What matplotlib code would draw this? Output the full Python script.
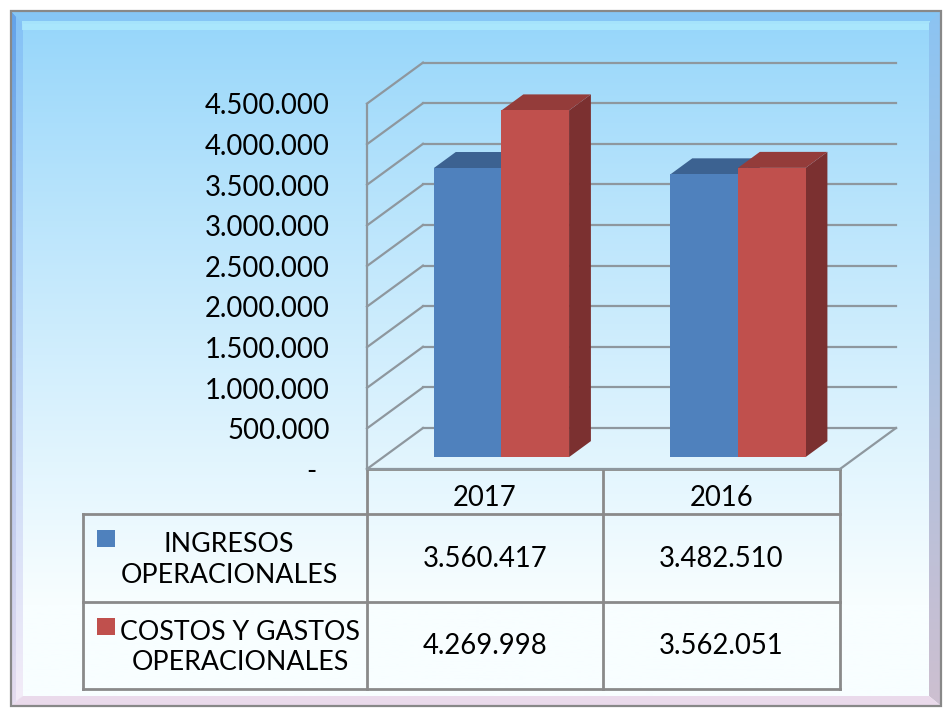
import numpy as np
import matplotlib
matplotlib.use("Agg")
import matplotlib.pyplot as plt
from matplotlib.patches import Polygon, Rectangle

plt.rcParams['font.family'] = ['Lato', 'DejaVu Sans']

# data
years = ['2017', '2016']
series = ['INGRESOS\nOPERACIONALES', 'COSTOS Y GASTOS\nOPERACIONALES']
ingresos = [3560417, 3482510]
costos = [4269998, 3562051]
values = [ingresos, costos]
y_ticks = [0, 500000, 1000000, 1500000, 2000000, 2500000,
           3000000, 3500000, 4000000, 4500000]
y_labels = ['-', '500.000', '1.000.000', '1.500.000', '2.000.000', '2.500.000',
            '3.000.000', '3.500.000', '4.000.000', '4.500.000']

front_col = ['#4F81BD', '#C0504D']
top_col = ['#3C6291', '#943C3A']
side_col = ['#365A86', '#7B3030']
grid_col = '#8E979E'


def fmt(v):
    return f"{v:,}".replace(',', '.')


def vgrad(axis, c_top, c_bot, extent, clip, z):
    # vertical colour ramp clipped to a polygon
    c_top = np.array(matplotlib.colors.to_rgb(c_top))
    c_bot = np.array(matplotlib.colors.to_rgb(c_bot))
    t = np.linspace(0, 1, 300)[:, None]
    img = (c_top * (1 - t) + c_bot * t)[:, None, :]
    im = axis.imshow(img, extent=extent, aspect='auto', zorder=z)
    patch = Polygon(clip, closed=True, transform=axis.transData)
    im.set_clip_path(patch)


W, H = 945, 708
fig = plt.figure(figsize=(W / 100, H / 100), dpi=100)

# background / frame axes in pixel units
bg = fig.add_axes([0, 0, 1, 1])
bg.set_xlim(0, W)
bg.set_ylim(H, 0)
bg.axis('off')

top_rgb = np.array([148, 213, 250]) / 255
bot_rgb = np.array([248, 254, 255]) / 255
t = np.clip(np.linspace(0, 1, 400) ** 0.9 * 1.15, 0, 1)[:, None]
grad = (top_rgb * (1 - t) + bot_rgb * t)[:, None, :]
bg.imshow(grad, extent=(12, 940, 705, 12), aspect='auto', zorder=0)

# bevel strips
vgrad(bg, '#63A3EA', '#E6DDF0', (12, 23, 705, 12),
      [(12, 12), (23, 23), (23, 696), (12, 705)], 1)
vgrad(bg, '#84C2F6', '#F4ECF8', (16, 23, 705, 12),
      [(16, 16), (23, 23), (23, 696), (16, 701)], 1)
bg.add_patch(Polygon([(12, 12), (940, 12), (930, 24), (22, 24)],
                     closed=True, color='#86C6F5', lw=0, zorder=1))
bg.add_patch(Polygon([(22, 21), (930, 21), (930, 30), (22, 30)],
                     closed=True, color='#AEEBFD', lw=0, zorder=1, alpha=0.8))
vgrad(bg, '#8CC4F2', '#CDBFD0', (929, 940, 705, 12),
      [(940, 12), (940, 705), (929, 696), (929, 23)], 1)
bg.add_patch(Polygon([(12, 705), (940, 705), (929, 696), (23, 696)],
                     closed=True, color='#EADAEB', lw=0, zorder=1))
bg.add_patch(Rectangle((11, 11), 930, 695, fill=False, ec='#888888', lw=1.6, zorder=2))

# data table (pixel layout)
tcol = '#8A8A8A'
tlw = 2.0
x_cols = [367, 603, 840]
y_rows = [469, 514, 602, 689]
bg.plot([x_cols[0], x_cols[-1]], [y_rows[0], y_rows[0]], color=tcol, lw=tlw, zorder=3)
for yr in y_rows[1:]:
    bg.plot([83, x_cols[-1]], [yr, yr], color=tcol, lw=tlw, zorder=3)
for xc in x_cols:
    bg.plot([xc, xc], [y_rows[0], y_rows[-1]], color=tcol, lw=tlw, zorder=3)
bg.plot([83, 83], [y_rows[1], y_rows[-1]], color=tcol, lw=tlw, zorder=3)

fs = 19.8
for i, yl in enumerate(years):
    xc = (x_cols[i] + x_cols[i + 1]) / 2
    bg.text(xc, 498, yl, ha='center', va='center', fontsize=fs, zorder=4)
    for j in range(2):
        yc = (y_rows[j + 1] + y_rows[j + 2]) / 2 + 1
        bg.text(xc, yc, fmt(values[j][i]), ha='center', va='center',
                fontsize=fs, zorder=4)

label_x = [229, 240]
for j, name in enumerate(series):
    yc = (y_rows[j + 1] + y_rows[j + 2]) / 2 + 2
    bg.add_patch(Rectangle((97, y_rows[j + 1] + 16), 18, 17,
                           color=front_col[j], lw=0, zorder=4))
    bg.text(label_x[j], yc, name, ha='center', va='center', fontsize=19.3,
            linespacing=1.3, zorder=4)

# 3D column chart axes: x in category units, y in value units
px_cat = 236.5
ppv = 40.6 / 500000
x_left_px, y_zero_px = 367, 469
ax = fig.add_axes([0, 0, 1, 1], zorder=5)
ax.set_facecolor('none')
ax.axis('off')
ax.set_xlim(-0.5 - x_left_px / px_cat, -0.5 + (W - x_left_px) / px_cat)
ax.set_ylim((y_zero_px - H) / ppv, y_zero_px / ppv)

DX = 56 / px_cat
DY = 41 / ppv
x0, x1 = -0.5, 1.5
ymax = y_ticks[-1]

# walls / floor gridlines
for v in y_ticks:
    ax.plot([x0 + DX, x1 + DX], [v + DY, v + DY], color=grid_col, lw=1.6, zorder=1)
    ax.plot([x0, x0 + DX], [v, v + DY], color=grid_col, lw=1.6, zorder=1)
ax.plot([x0, x0], [0, ymax], color=grid_col, lw=1.6, zorder=1)
ax.plot([x0, x1], [0, 0], color=grid_col, lw=1.6, zorder=1)
ax.plot([x1, x1 + DX], [0, DY], color=grid_col, lw=1.6, zorder=1)

for v, lab in zip(y_ticks, y_labels):
    off = 37 if lab != '-' else 51
    ax.text(x0 - off / px_cat, v - 35000, lab, ha='right', va='center', fontsize=fs)

# bars
bw = 1 / 3.5
d0, d1 = 0.29, 0.68
for i in range(len(years)):
    for j in range(2):
        v = values[j][i]
        bx = i - bw + j * bw + d0 * DX
        by = d0 * DY
        ddx = (d1 - d0) * DX
        ddy = (d1 - d0) * DY
        z = 2 + i * 2 + j
        ax.add_patch(Polygon([(bx + bw, by), (bx + bw + ddx, by + ddy),
                              (bx + bw + ddx, by + v + ddy), (bx + bw, by + v)],
                             closed=True, color=side_col[j], lw=0, zorder=z))
        ax.add_patch(Polygon([(bx, by + v), (bx + bw, by + v),
                              (bx + bw + ddx, by + v + ddy), (bx + ddx, by + v + ddy)],
                             closed=True, color=top_col[j], lw=0, zorder=z))
        ax.add_patch(Rectangle((bx, by), bw, v, color=front_col[j], lw=0, zorder=z))

fig.savefig('out.png', dpi=100)
